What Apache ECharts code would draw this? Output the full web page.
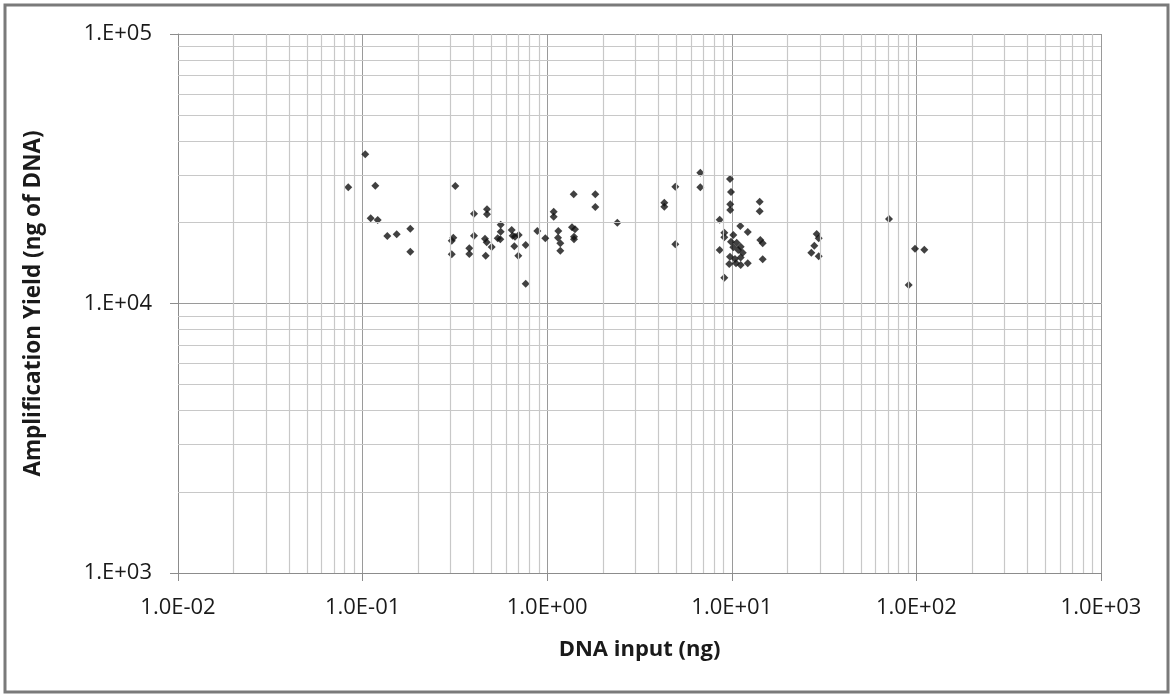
<!DOCTYPE html>
<html>
<head>
<meta charset="utf-8">
<script src="https://cdn.jsdelivr.net/npm/echarts@6/dist/echarts.min.js"></script>
<style>
  html, body { margin: 0; padding: 0; background: #fff; }
  #chart { width: 1172px; height: 696px; }
</style>
</head>
<body>
<div id="chart"></div>
<script>
// DNA input (ng) and amplification yield (ng of DNA)
const dnaInput = [
  0.0836, 0.1034, 0.1172, 0.1106, 0.1207, 0.1361, 0.1530, 0.1813, 0.1813,
  0.3178, 0.3040, 0.3100, 0.3040, 0.4014, 0.4014, 0.3784, 0.3784, 0.4720, 0.4720,
  0.4603, 0.4702, 0.4642, 0.5003, 0.5599, 0.5599, 0.5394, 0.5570, 0.6422, 0.6502,
  0.6692, 0.7007, 0.6633, 0.6972, 0.7646, 0.7646, 0.8838, 0.9765,
  1.0844, 1.0844, 1.1484, 1.1441, 1.1776, 1.1776, 1.3622, 1.4143, 1.3969, 1.3969,
  1.3915, 1.8222, 1.8222, 2.398,
  6.752, 6.752, 4.943, 4.309, 4.309, 4.943,
  9.777, 9.90, 9.81, 9.81, 8.60, 14.16, 14.16, 11.12, 12.20, 9.11, 9.11,
  10.19, 9.90, 10.63, 11.17, 10.19, 10.84, 11.46, 11.17, 9.777, 10.41, 9.69,
  10.54, 11.17, 12.20, 8.60, 9.11, 14.27, 14.70, 14.70,
  28.84, 29.56, 27.99, 26.97, 29.56,
  71.06, 98.26, 110.4, 90.86
];
const ampYield = [
  26990, 35780, 27360, 20700, 20410, 17800, 18060, 18950, 15570,
  27290, 17100, 17550, 15220, 21540, 17850, 16020, 15260, 22360, 21430,
  17400, 16870, 15040, 16210, 19610, 18470, 17460, 17310, 18740, 17850,
  17700, 17960, 16300, 15040, 16490, 11840, 18580, 17460,
  21900, 20990, 18580, 17550, 16730, 15700, 19170, 18850, 17700, 17310,
  25420, 25420, 22810, 19950,
  30580, 26990, 27130, 23660, 22870, 16590,
  28970, 25920, 23340, 22230, 20460, 23860, 21980, 19400, 18420, 18310, 17600,
  17960, 16960, 16810, 16250, 16160, 15800, 15430, 14830, 14910, 14620, 14010,
  14100, 13890, 14100, 15800, 12470, 17200, 16730, 14580,
  18110, 17460, 16390, 15430, 14960,
  20580, 15970, 15830, 11710
];
const xDecades = [0.01, 0.1, 1, 10, 100];
const yDecades = [1000, 10000];
const minorSteps = [2, 3, 4, 5, 6, 7, 8, 9];

const points = dnaInput.map((x, i) => [x, ampYield[i]]);

function expLabel(v, mant) {
  const e = Math.round(Math.log10(v));
  const s = e < 0 ? '-' : '+';
  return mant + 'E' + s + String(Math.abs(e)).padStart(2, '0');
}

let minorLines = [];
xDecades.forEach(d => minorSteps.forEach(k => minorLines.push({ xAxis: d * k })));
yDecades.forEach(d => minorSteps.forEach(k => minorLines.push({ yAxis: d * k })));

const chart = echarts.init(document.getElementById('chart'));
const textColor = '#1a1a1a';
chart.setOption({
  animation: false,
  textStyle: { fontFamily: 'Open Sans' },
  graphic: [{
    type: 'rect',
    shape: { x: 5, y: 5, width: 1163, height: 687 },
    style: { fill: 'none', stroke: '#7a7a7a', lineWidth: 3 },
    silent: true
  }],
  grid: { left: 178, right: 71, top: 34, bottom: 123 },
  xAxis: {
    type: 'log',
    logBase: 10,
    min: 0.01,
    max: 1000,
    name: 'DNA input (ng)',
    nameLocation: 'middle',
    nameGap: 66,
    nameTextStyle: { fontSize: 22, fontWeight: 'bold', color: textColor },
    axisLine: { lineStyle: { color: '#8c8c8c', width: 1 } },
    axisTick: { show: true, length: 8, lineStyle: { color: '#8c8c8c' } },
    axisLabel: {
      fontSize: 22, color: textColor, margin: 24,
      formatter: v => expLabel(v, '1.0')
    },
    splitLine: { show: true, lineStyle: { color: '#9a9a9a', width: 1 } }
  },
  yAxis: {
    type: 'log',
    logBase: 10,
    min: 1000,
    max: 100000,
    name: 'Amplification Yield (ng of DNA)',
    nameLocation: 'middle',
    nameGap: 133,
    nameTextStyle: { fontSize: 22.5, fontWeight: 'bold', color: textColor },
    axisLine: { show: true, lineStyle: { color: '#8c8c8c', width: 1 } },
    axisTick: { show: true, length: 8, lineStyle: { color: '#8c8c8c' } },
    axisLabel: {
      fontSize: 22, color: textColor, margin: 26,
      formatter: v => expLabel(v, '1.')
    },
    splitLine: { show: true, lineStyle: { color: '#9a9a9a', width: 1 } }
  },
  series: [
    {
      type: 'line',
      data: [],
      silent: true,
      z: 1,
      markLine: {
        silent: true,
        symbol: ['none', 'none'],
        label: { show: false },
        lineStyle: { color: '#c8c8c8', width: 1.2, type: 'solid' },
        emphasis: { disabled: true },
        data: minorLines
      }
    },
    {
      type: 'scatter',
      z: 3,
      symbol: 'diamond',
      symbolSize: 8,
      itemStyle: { color: '#111111' },
      data: points
    }
  ]
});
</script>
</body>
</html>
